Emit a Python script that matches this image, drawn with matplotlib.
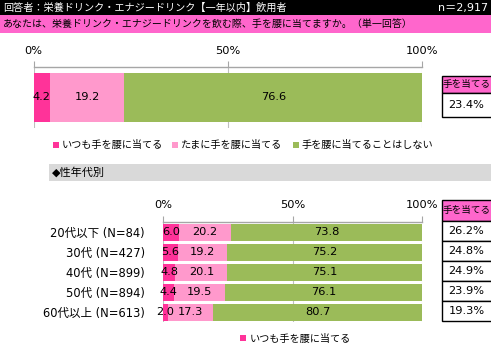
import matplotlib
matplotlib.use('Agg')
import matplotlib.pyplot as plt
from matplotlib.patches import Rectangle

W, H = 491, 345
plt.rcParams['font.family'] = ['DejaVu Sans', 'Noto Sans CJK JP']

title = "回答者：栄養ドリンク・エナジードリンク【一年以内】飲用者"
n_label = "n＝2,917"
question = "あなたは、栄養ドリンク・エナジードリンクを飲む際、手を腰に当てますか。（単一回答）"
series_names = ["いつも手を腰に当てる", "たまに手を腰に当てる", "手を腰に当てることはしない"]
total_values = [4.2, 19.2, 76.6]
section_label = "◆性年代別"
age_groups = ["20代以下 (N=84)", "30代 (N=427)", "40代 (N=899)", "50代 (N=894)", "60代以上 (N=613)"]
always = [6.0, 5.6, 4.8, 4.4, 2.0]
sometimes = [20.2, 19.2, 20.1, 19.5, 17.3]
never = [73.8, 75.2, 75.1, 76.1, 80.7]
ticks = [0, 50, 100]
tick_labels = ["0%", "50%", "100%"]
summary_header = "手を当てる"

colors = ['#FF3399', '#FF99CC', '#9BBB59']
PINK = '#FF66CC'
FS = 8.2

fig = plt.figure(figsize=(W / 100, H / 100), dpi=100)


def frac(x, y, w, h):
    return [x / W, 1 - (y + h) / H, w / W, h / H]


def rect(x, y, w, h, **kw):
    fig.patches.append(Rectangle((x / W, 1 - (y + h) / H), w / W, h / H,
                                 transform=fig.transFigure, **kw))


def ftext(x, y, s, **kw):
    kw.setdefault('fontsize', FS)
    kw.setdefault('va', 'center')
    fig.text(x / W, 1 - y / H, s, **kw)


# header bars
rect(0, 0, W, 15, facecolor='black', edgecolor='none')
ftext(3, 7.5, title, color='white', ha='left', fontsize=7.3)
ftext(488, 7.5, n_label, color='white', ha='right', fontsize=8)
rect(0, 15, W, 18, facecolor=PINK, edgecolor='none')
ftext(3, 24, question, color='black', ha='left', fontsize=7.2)


def style_axis(ax, pad):
    ax.set_xlim(0, 100)
    for s in ['left', 'right', 'bottom']:
        ax.spines[s].set_visible(False)
    ax.spines['top'].set_color('#A6A6A6')
    ax.spines['top'].set_linewidth(1)
    ax.xaxis.tick_top()
    ax.set_xticks(ticks, tick_labels)
    ax.tick_params(axis='x', length=4, color='#A6A6A6', pad=pad, labelsize=FS)
    ax.grid(axis='x', color='#BFBFBF', lw=0.8)
    ax.set_axisbelow(True)
    ax.patch.set_alpha(0)


# top chart
ax1 = fig.add_axes(frac(33.5, 67, 388.5, 61))
style_axis(ax1, 3.7)
left = 0
for v, c in zip(total_values, colors):
    ax1.barh(0, v, left=left, height=0.79, color=c, zorder=2)
    ax1.text(left + v / 2, 0, f"{v:.1f}", ha='center', va='center', fontsize=FS, zorder=3)
    left += v
ax1.set_ylim(0.5, -0.5)
ax1.set_yticks([])

# top legend
leg_x = [53, 172, 293]
for lx, name, c in zip(leg_x, series_names, colors):
    rect(lx, 142, 6, 6, facecolor=c, edgecolor='none')
    ftext(lx + 9, 145, name, ha='left', fontsize=7.3)

# top summary box
top_sum = total_values[0] + total_values[1]
rect(442, 76, 60, 17, facecolor=PINK, edgecolor='black', lw=1)
ftext(443, 84.5, summary_header, ha='left', fontsize=6.9)
rect(442, 93, 60, 24, facecolor='white', edgecolor='black', lw=1)
ftext(466.5, 105, f"{top_sum:.1f}%", ha='center')

# section bar
rect(49, 164, W - 49, 17, facecolor='#D9D9D9', edgecolor='none')
ftext(52, 172.5, section_label, ha='left', fontsize=8)

# bottom chart
ax2 = fig.add_axes(frac(163, 222, 259, 100))
style_axis(ax2, 4.3)
ypos = list(range(len(age_groups)))
lefts = [0] * len(age_groups)
for vals, c in zip([always, sometimes, never], colors):
    ax2.barh(ypos, vals, left=lefts, height=0.85, color=c, zorder=2)
    for y, v, l in zip(ypos, vals, lefts):
        ax2.text(l + v / 2, y, f"{v:.1f}", ha='center', va='center', fontsize=FS, zorder=3)
    lefts = [l + v for l, v in zip(lefts, vals)]
ax2.set_ylim(len(age_groups) - 0.5, -0.5)
ax2.set_yticks(ypos, age_groups)
ax2.tick_params(axis='y', length=0, pad=13, labelsize=8.3)

# bottom table
rect(442, 200, 60, 21, facecolor=PINK, edgecolor='black', lw=1)
ftext(443, 210.5, summary_header, ha='left', fontsize=6.9)
for i, (a, s) in enumerate(zip(always, sometimes)):
    rect(442, 221 + 20 * i, 60, 20, facecolor='white', edgecolor='black', lw=1)
    ftext(466.5, 231 + 20 * i, f"{a + s:.1f}%", ha='center')

# bottom legend
rect(240, 335, 6, 6, facecolor=colors[0], edgecolor='none')
ftext(250, 338.5, series_names[0], ha='left', fontsize=7.3)

fig.savefig('out.png', dpi=100)
